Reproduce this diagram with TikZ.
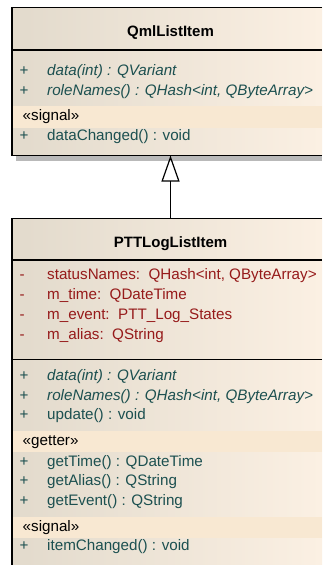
\documentclass[tikz,border=0pt]{standalone}
\usepackage{fontspec}
\setmainfont{Liberation Sans}
\usetikzlibrary{arrows.meta}
\definecolor{boxl}{RGB}{226,218,204}
\definecolor{boxr}{RGB}{251,240,227}
\definecolor{band}{RGB}{248,232,210}
\definecolor{opc}{RGB}{28,80,80}
\definecolor{atc}{RGB}{150,26,26}
\definecolor{shad}{RGB}{185,185,185}
\begin{document}
\begin{tikzpicture}[x=1pt,y=-1pt,
  font=\fontsize{15.2}{18}\selectfont,
  umlbox/.style={left color=boxl, right color=boxr,
    anchor=north west, inner sep=0, outer sep=0, minimum width=310pt},
  border/.style={draw=black, line width=1.4pt},
  shadowfill/.style={fill=shad},
  sepline/.style={draw=black, line width=1.2pt},
  bandfill/.style={fill=band},
  ttl/.style={anchor=base, inner sep=0, font=\fontsize{15}{18}\selectfont\bfseries},
  txt/.style={anchor=base west, inner sep=0},
  op/.style={txt, text=opc},
  opi/.style={txt, text=opc, font=\fontsize{15.2}{18}\selectfont\itshape},
  attr/.style={txt, text=atc},
  ster/.style={txt, text=black},
  inh/.style={draw=black, line width=1.2pt, -{Triangle[open, width=18pt, length=26pt, line width=1.2pt]}}
]
\path[use as bounding box, fill=white] (0,0) rectangle (322,565);

% ---------- QmlListItem ----------
\path[shadowfill] (16,155.5) rectangle (322,160.5);
\node[umlbox, minimum height=148pt] (qml) at (12,7.5) {};
\path[bandfill] (13,106) rectangle (322,128);
\draw[sepline] (12,50) -- (322,50);
\draw[border] (322,7.5) -- (12,7.5) -- (12,155.5) -- (322,155.5);
\node[ttl] (qmlt) at (170.5,36) {QmlListItem};
\node[op]  (q1p) at (19.5,75) {+};
\node[opi] (q1)  at (47,75) {data(int) : QVariant};
\node[op]  (q2p) at (19.5,95) {+};
\node[opi] (q2)  at (47,95) {roleNames() : QHash<int, QByteArray>};
\node[ster] (qs) at (22.5,120.7) {«signal»};
\node[op]  (q3p) at (19.5,140.7) {+};
\node[op]  (q3)  at (47,140.7) {dataChanged() : void};

% ---------- PTTLogListItem ----------
\node[umlbox, minimum height=346.5pt] (ptt) at (12,218.5) {};
\path[bandfill] (13,431) rectangle (322,452);
\path[bandfill] (13,517) rectangle (322,538);
\draw[sepline] (12,260) -- (322,260);
\draw[sepline] (12,359.5) -- (322,359.5);
\draw[border] (322,218.5) -- (12,218.5) -- (12,565);
\node[ttl] (pttt) at (170.5,247.3) {PTTLogListItem};
\node[attr] (a1p) at (19.5,279.3) {-};
\node[attr] (a1)  at (47,279.3) {statusNames:\ \ QHash<int, QByteArray>};
\node[attr] (a2p) at (19.5,299.3) {-};
\node[attr] (a2)  at (47,299.3) {m\_time:\ \ QDateTime};
\node[attr] (a3p) at (19.5,319) {-};
\node[attr] (a3)  at (47,319) {m\_event:\ \ PTT\_Log\_States};
\node[attr] (a4p) at (19.5,339) {-};
\node[attr] (a4)  at (47,339) {m\_alias:\ \ QString};
\node[op]  (p1p) at (19.5,380.5) {+};
\node[opi] (p1)  at (47,380.5) {data(int) : QVariant};
\node[op]  (p2p) at (19.5,400) {+};
\node[opi] (p2)  at (47,400) {roleNames() : QHash<int, QByteArray>};
\node[op]  (p3p) at (19.5,419.5) {+};
\node[op]  (p3)  at (47,419.5) {update() : void};
\node[ster] (pg) at (22.5,445.3) {«getter»};
\node[op]  (p4p) at (19.5,466) {+};
\node[op]  (p4)  at (47,466) {getTime() : QDateTime};
\node[op]  (p5p) at (19.5,485.5) {+};
\node[op]  (p5)  at (47,485.5) {getAlias() : QString};
\node[op]  (p6p) at (19.5,505) {+};
\node[op]  (p6)  at (47,505) {getEvent() : QString};
\node[ster] (ps) at (22.5,531) {«signal»};
\node[op]  (p7p) at (19.5,550.7) {+};
\node[op]  (p7)  at (47,550.7) {itemChanged() : void};

% ---------- generalization ----------
\draw[inh] (ptt.north -| qmlt) -- (qml.south -| qmlt);
\end{tikzpicture}
\end{document}
